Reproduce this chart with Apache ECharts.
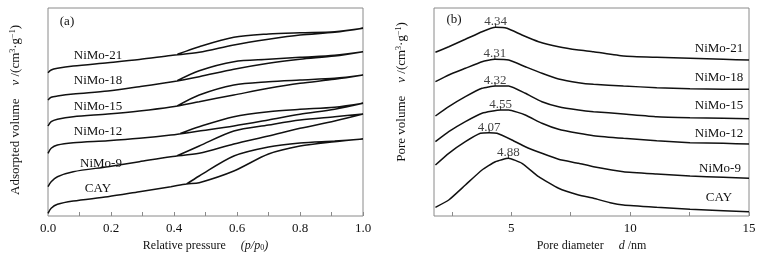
<!DOCTYPE html>
<html>
<head>
<meta charset="utf-8">
<script src="https://cdn.jsdelivr.net/npm/echarts@6/dist/echarts.min.js"></script>
<style>
  html, body { margin: 0; padding: 0; background: #fff; }
  #chart { width: 769px; height: 254px; }
</style>
</head>
<body>
<div id="chart"></div>
<script>
// sample names, top to bottom
const samples = ['NiMo-21', 'NiMo-18', 'NiMo-15', 'NiMo-12', 'NiMo-9', 'CAY'];

// (a) N2 isotherms, [p/p0, volume] (curves offset, arbitrary units)
// adsorption branch 0 -> 1, then desorption branch back to loop closure
const isoNiMo21 = [[0,143.3],[0.01,146],[0.03,147.7],[0.08,150],[0.19,153.3],[0.29,156.5],[0.39,160.5],[0.48,163.7],[0.59,171],[0.7,176.7],[0.8,181],[0.91,183.7],[1,187.7],
                   [0.91,184.3],[0.8,183.3],[0.7,182],[0.59,178.7],[0.48,169.3],[0.41,161.5]];
const isoNiMo18 = [[0,116],[0.01,118.7],[0.03,120],[0.08,122],[0.19,125],[0.29,129.3],[0.39,134],[0.48,139.3],[0.59,146.7],[0.7,152.7],[0.8,156.7],[0.91,160],[1,164.3],
                   [0.91,160.7],[0.8,158.7],[0.7,156.7],[0.59,154.3],[0.48,145.3],[0.41,135.3]];
const isoNiMo15 = [[0,90],[0.01,94.3],[0.03,96.7],[0.08,99.3],[0.19,102],[0.29,105],[0.39,109],[0.48,114.3],[0.59,121],[0.7,127.7],[0.8,132.7],[0.91,136.7],[1,141],
                   [0.91,137.7],[0.8,136],[0.7,134.3],[0.59,131],[0.48,121],[0.41,110]];
const isoNiMo12 = [[0,62.7],[0.01,67.7],[0.03,71],[0.08,73.3],[0.19,75.3],[0.29,77.7],[0.39,81],[0.48,85],[0.59,90],[0.7,96],[0.8,101.7],[0.91,106.7],[1,112.7],
                   [0.91,108.7],[0.8,106.7],[0.7,104.3],[0.59,99.3],[0.48,89.3],[0.42,82.5]];
const isoNiMo9  = [[0,29.3],[0.01,34.3],[0.03,39.3],[0.08,44.3],[0.19,49.3],[0.29,54.3],[0.39,59.3],[0.48,62.7],[0.59,72],[0.7,80],[0.8,87.7],[0.91,95],[1,102],
                   [0.91,99.3],[0.8,96],[0.7,91],[0.59,85],[0.48,70],[0.41,60.3]];
const isoCAY    = [[0,2.7],[0.01,7.7],[0.03,11.7],[0.08,15],[0.19,19.3],[0.29,24.3],[0.39,29.3],[0.44,32],[0.48,33.3],[0.59,45],[0.7,62],[0.8,70],[0.91,74.3],[1,77],
                   [0.91,75],[0.8,73],[0.7,69],[0.59,60],[0.48,40],[0.44,32]];

// (b) pore size distribution, [d nm, volume] (curves offset, arbitrary units)
const psdNiMo21 = [[1.81,163.7],[2.37,169.3],[3.07,176.7],[3.77,184.3],[4.34,188.7],[4.82,187.7],[5.45,181],[6.15,174.3],[6.99,169.3],[7.83,166],[8.46,164.3],[9.72,160],[11.12,158.7],[12.52,157.7],[13.92,156.7],[15,156]];
const psdNiMo18 = [[1.81,134.3],[2.37,141],[3.07,147.7],[3.77,154.3],[4.31,156.7],[4.89,156],[5.59,149.3],[6.29,142.7],[6.99,137],[7.83,133.3],[8.46,131.7],[9.72,130],[11.12,128.3],[12.52,127.3],[13.92,126.7],[15,126.7]];
const psdNiMo15 = [[1.81,100],[2.37,109.3],[3.07,119.3],[3.77,127.7],[4.32,130],[4.89,130],[5.59,122.7],[6.29,114.3],[6.99,109.3],[7.83,106],[8.46,104.3],[9.72,102],[11.12,99.3],[12.52,98.3],[13.92,97.7],[15,97.3]];
const psdNiMo12 = [[1.81,74.3],[2.37,84.3],[3.07,94.3],[3.77,102.7],[4.55,106],[4.89,106],[5.59,101],[6.29,92.7],[6.99,86.7],[7.83,82.7],[8.46,80.3],[9.72,77.7],[11.12,75.3],[12.52,73.3],[13.92,72.7],[15,72]];
const psdNiMo9  = [[1.81,51],[2.37,62.7],[3.07,74.3],[3.7,82.7],[4.07,83.3],[4.4,82.7],[5.03,76],[5.59,69.3],[6.29,62.7],[6.99,56.7],[7.83,52.7],[8.46,49.3],[9.72,44.3],[11.12,42],[12.52,40],[13.92,38.7],[15,37.7]];
const psdCAY    = [[1.81,8.7],[2.37,16],[3.07,31],[3.77,46],[4.33,54.3],[4.88,57.7],[5.45,52.7],[6.15,39.3],[6.99,27.7],[7.83,21],[8.46,17.7],[9.16,13.3],[9.72,11],[11.12,8.7],[12.52,6.7],[13.92,5.3],[15,4.3]];

// most probable pore diameters marked on (b)
const peakD = [4.34, 4.31, 4.32, 4.55, 4.07, 4.88];
const peakV = [188.7, 156.7, 130, 106, 83.3, 57.7];

// tick labels
const pressureLabels = [0, 0.2, 0.4, 0.6, 0.8, 1.0];
const pressureTicks = [0.1, 0.2, 0.3, 0.4, 0.5, 0.6, 0.7, 0.8, 0.9, 1.0];
const diameterLabels = [5, 10, 15];
const diameterTicks = [2.5, 5, 7.5, 10, 12.5, 15];

const isoData = [isoNiMo21, isoNiMo18, isoNiMo15, isoNiMo12, isoNiMo9, isoCAY];
const psdData = [psdNiMo21, psdNiMo18, psdNiMo15, psdNiMo12, psdNiMo9, psdCAY];

const font = '"Liberation Serif", "Times New Roman", serif';
const ink = '#111';
const frame = '#8a8a8a';

function richFor(size) {
  return {
    i: { fontFamily: font, fontSize: size, fontStyle: 'italic', color: ink },
    sup: { fontFamily: font, fontSize: 8, color: ink, verticalAlign: 'top', lineHeight: 14 },
    sub: { fontFamily: font, fontSize: 8, color: ink, verticalAlign: 'bottom', lineHeight: 12 }
  };
}

function xAxisBase(gridIndex) {
  return {
    type: 'value',
    gridIndex: gridIndex,
    nameLocation: 'middle',
    nameGap: 23,
    nameTextStyle: { fontFamily: font, fontSize: 12, color: ink, rich: richFor(12) },
    axisLine: { show: false },
    splitLine: { show: false },
    axisTick: { show: true, inside: true, length: 4, lineStyle: { color: frame } },
    axisLabel: { fontFamily: font, fontSize: 13, color: ink, margin: 6 }
  };
}
function yAxisBase(gridIndex, pad) {
  return {
    type: 'value',
    gridIndex: gridIndex,
    min: 0,
    max: 208,
    nameLocation: 'middle',
    nameRotate: 90,
    nameGap: 25,
    nameTextStyle: { fontFamily: font, fontSize: 13, color: ink, rich: richFor(13), padding: [0, 0, 0, pad] },
    axisLine: { show: false },
    axisTick: { show: false },
    axisLabel: { show: false },
    splitLine: { show: false }
  };
}

const series = [];
isoData.forEach((d, i) => {
  series.push({
    type: 'line', xAxisIndex: 0, yAxisIndex: 0, data: d, name: samples[i],
    showSymbol: false, smooth: 0.3, lineStyle: { color: ink, width: 1.5 }, silent: true
  });
});
psdData.forEach((d, i) => {
  series.push({
    type: 'line', xAxisIndex: 1, yAxisIndex: 1, data: d, name: samples[i],
    showSymbol: false, smooth: 0.15, lineStyle: { color: ink, width: 1.5 }, silent: true
  });
});
series.push({
  type: 'scatter', xAxisIndex: 1, yAxisIndex: 1,
  data: peakD.map((d, i) => [d, peakV[i]]),
  symbol: 'rect', symbolSize: [1, 4], symbolOffset: [0, -2],
  itemStyle: { color: ink },
  label: {
    show: true, position: 'top', distance: 0, offset: [0, 5],
    fontFamily: font, fontSize: 13, color: ink,
    formatter: p => p.value[0].toFixed(2)
  },
  silent: true
});

// sample names placed beside their curves
const leftNames = [[98, 55.5], [98, 81], [98, 106.5], [98, 132], [101, 164], [98, 189]];
const rightNames = [[719, 49], [719, 77.5], [719, 106], [719, 134], [720, 169], [719, 198]];
const graphic = [];
samples.forEach((s, i) => {
  graphic.push({ type: 'text', x: leftNames[i][0], y: leftNames[i][1],
    style: { text: s, font: '13px ' + font, fill: ink, align: 'center', verticalAlign: 'middle' } });
  graphic.push({ type: 'text', x: rightNames[i][0], y: rightNames[i][1],
    style: { text: s, font: '13px ' + font, fill: ink, align: 'center', verticalAlign: 'middle' } });
});
graphic.push({ type: 'text', x: 67, y: 22, style: { text: '(a)', font: '13px ' + font, fill: ink, align: 'center', verticalAlign: 'middle' } });
graphic.push({ type: 'text', x: 454, y: 20, style: { text: '(b)', font: '13px ' + font, fill: ink, align: 'center', verticalAlign: 'middle' } });

const xA = xAxisBase(0);
xA.min = 0; xA.max = 1;
xA.name = 'Relative pressure     {i|(p/p}{sub|0}{i|)}';
xA.axisTick.customValues = pressureTicks;
xA.axisLabel.customValues = pressureLabels;
xA.axisLabel.formatter = v => v.toFixed(1);

const xB = xAxisBase(1);
xB.min = 1.75; xB.max = 15;
xB.name = 'Pore diameter     {i|d} /nm';
xB.axisTick.customValues = diameterTicks;
xB.axisLabel.customValues = diameterLabels;

const yA = yAxisBase(0, 4);
yA.name = 'Adsorpted volume    {i|v} /(cm{sup|3}·g{sup|−1})';

const yB = yAxisBase(1, 40);
yB.name = 'Pore volume    {i|v} /(cm{sup|3}·g{sup|−1})';

const chart = echarts.init(document.getElementById('chart'));
chart.setOption({
  animation: false,
  backgroundColor: '#fff',
  grid: [
    { left: 48, top: 8, width: 315, height: 208, show: true, borderColor: frame, borderWidth: 1, outerBoundsMode: 'none' },
    { left: 434, top: 8, width: 315, height: 208, show: true, borderColor: frame, borderWidth: 1, outerBoundsMode: 'none' }
  ],
  xAxis: [xA, xB],
  yAxis: [yA, yB],
  series: series,
  graphic: graphic
});
</script>
</body>
</html>
